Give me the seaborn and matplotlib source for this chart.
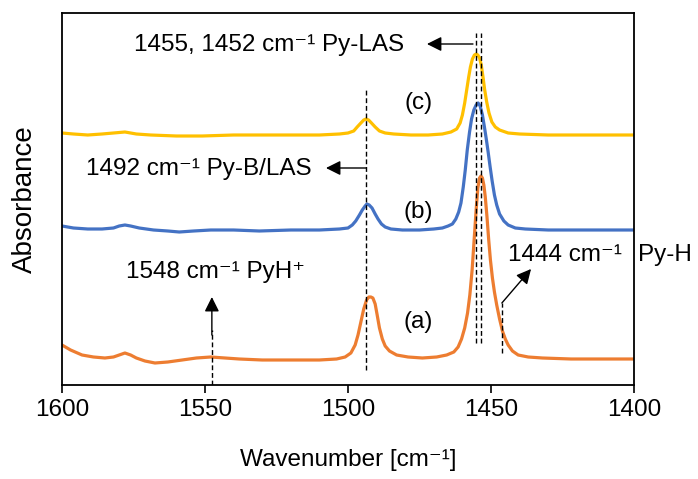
import numpy as np
import pandas as pd
import matplotlib
matplotlib.use("Agg")
import matplotlib.pyplot as plt
import seaborn as sns

# ---- data (wavenumber in cm-1, absorbance in a.u.) ----
wn_a = [1600, 1597, 1593, 1589, 1585, 1582, 1580, 1578, 1576, 1574, 1571, 1567.5, 1563,
        1558, 1553, 1548, 1543, 1538, 1530, 1520, 1510, 1504, 1501, 1499, 1497.5, 1496.5,
        1495.5, 1494.5, 1493.5, 1492.7, 1492, 1491.3, 1490.5, 1489.8, 1489, 1488, 1487,
        1485.5, 1483, 1479, 1474, 1469, 1465.5, 1463, 1461.5, 1460.3, 1459.2, 1458.2,
        1457.4, 1456.6, 1455.9, 1455.2, 1454.6, 1454.0, 1453.5, 1453.0, 1452.5, 1452.0,
        1451.4, 1450.8, 1450.2, 1449.5, 1448.8, 1448, 1447, 1446, 1445, 1444, 1442.5,
        1440.5, 1437, 1432, 1422, 1410, 1400]
abs_a = [0.40, 0.35, 0.30, 0.28, 0.27, 0.28, 0.30, 0.32, 0.30, 0.27, 0.24, 0.22, 0.23,
         0.25, 0.27, 0.28, 0.27, 0.26, 0.25, 0.25, 0.25, 0.26, 0.28, 0.32, 0.40, 0.50,
         0.63, 0.76, 0.85, 0.88, 0.88, 0.87, 0.81, 0.70, 0.57, 0.46, 0.39,
         0.34, 0.30, 0.28, 0.27, 0.28, 0.30, 0.33, 0.38, 0.46, 0.57, 0.72,
         0.90, 1.15, 1.45, 1.75, 1.97, 2.07, 2.09, 2.07, 2.00, 1.88,
         1.68, 1.45, 1.25, 1.07, 0.93, 0.80, 0.66, 0.54, 0.46, 0.40, 0.34,
         0.30, 0.28, 0.27, 0.26, 0.26, 0.26]

wn_b = [1600, 1596, 1591, 1586, 1582, 1580, 1578, 1576, 1573, 1568, 1563, 1559, 1554,
        1548, 1540, 1531, 1520, 1510, 1503, 1500, 1498.5, 1497.3, 1496, 1495, 1494,
        1493.4, 1492.6, 1491.6, 1490.5, 1489.5, 1488.3, 1487, 1485, 1481, 1475, 1470,
        1467, 1465, 1463.5, 1462.3, 1461.3, 1460.5, 1459.7, 1459, 1458.3, 1457.5, 1456.8,
        1456, 1455.2, 1454.5, 1453.8, 1453, 1452.3, 1451.6, 1451, 1450.3, 1449.6, 1448.8,
        1448, 1447, 1445.5, 1444, 1441.5, 1438, 1430, 1415, 1400]
abs_b = [1.59, 1.57, 1.56, 1.56, 1.57, 1.59, 1.60, 1.59, 1.57, 1.55, 1.54, 1.53, 1.54,
         1.55, 1.55, 1.54, 1.55, 1.55, 1.56, 1.57, 1.60, 1.64, 1.70, 1.75, 1.79,
         1.81, 1.80, 1.77, 1.71, 1.66, 1.61, 1.58, 1.56, 1.55, 1.55, 1.56,
         1.57, 1.59, 1.61, 1.66, 1.73, 1.82, 1.98, 2.15, 2.35, 2.53, 2.66,
         2.75, 2.80, 2.82, 2.79, 2.70, 2.58, 2.45, 2.33, 2.18, 2.04, 1.90,
         1.80, 1.71, 1.64, 1.60, 1.57, 1.56, 1.55, 1.55, 1.55]

wn_c = [1600, 1596, 1591, 1586, 1582, 1578, 1574, 1569, 1560, 1551, 1540, 1530, 1520,
        1510, 1503, 1500, 1498, 1496.8, 1495.5, 1494.5, 1493.7, 1492.8, 1491.8, 1490.5,
        1489, 1487, 1484, 1478, 1472, 1467, 1464, 1462, 1460.8, 1460, 1459.2, 1458.5,
        1457.8, 1457.2, 1456.5, 1455.8, 1455.2, 1454.6, 1454, 1453.4, 1452.8, 1452.2,
        1451.5, 1450.7, 1449.7, 1448.5, 1447, 1444, 1440, 1430, 1400]
abs_c = [2.52, 2.51, 2.50, 2.51, 2.52, 2.53, 2.51, 2.50, 2.49, 2.49, 2.50, 2.50, 2.50,
         2.50, 2.51, 2.52, 2.54, 2.58, 2.62, 2.65, 2.66, 2.65, 2.62, 2.58,
         2.54, 2.52, 2.51, 2.50, 2.50, 2.51, 2.53, 2.56, 2.62, 2.70, 2.82, 2.95,
         3.08, 3.18, 3.26, 3.30, 3.31, 3.30, 3.27, 3.20, 3.08, 2.95,
         2.83, 2.72, 2.63, 2.58, 2.55, 2.52, 2.51, 2.50, 2.50]

series_labels = ["(a)", "(b)", "(c)"]
series_colors = ["#ED7D31", "#4472C4", "#FFC000"]
xticks = [1600, 1550, 1500, 1450, 1400]

# ---- style ----
sns.set_theme(style="white")
plt.rcParams["font.family"] = ["Liberation Sans", "DejaVu Sans"]
plt.rcParams["text.color"] = "black"
plt.rcParams["axes.labelcolor"] = "black"
plt.rcParams["xtick.color"] = "black"

FS = 17.5
fig = plt.figure(figsize=(6.98, 4.79), dpi=100)
ax = fig.add_axes([62 / 698, 1 - 385 / 479, (634 - 62) / 698, (385 - 13) / 479])

frames = []
for wn, ab, lab in [(wn_a, abs_a, "(a)"), (wn_b, abs_b, "(b)"), (wn_c, abs_c, "(c)")]:
    frames.append(pd.DataFrame({"wn": wn, "abs": ab, "sample": lab}))
df = pd.concat(frames, ignore_index=True)

sns.lineplot(data=df, x="wn", y="abs", hue="sample", hue_order=series_labels,
             palette=series_colors, estimator=None, sort=True, lw=2.3,
             legend=False, ax=ax)

ax.set_xlim(1600, 1400)
ax.set_ylim(0, 3.72)
ax.set_xticks(xticks)
ax.set_xticklabels([str(t) for t in xticks], fontsize=FS)
ax.set_yticks([])
ax.tick_params(axis="x", direction="out", length=6, width=1.2, color="black",
               bottom=True, pad=4)
for s in ax.spines.values():
    s.set_color("black")
    s.set_linewidth(1.3)

ax.set_xlabel("Wavenumber [cm\u207b\u00b9]", fontsize=FS, labelpad=20)
ax.set_ylabel("Absorbance", fontsize=20, labelpad=17)

dash = (0, (3.5, 2.0))
kw = dict(color="black", lw=1.0, ls=dash)
# dashed guide lines
ax.plot([1493.7, 1493.7], [0.15, 2.97], **kw)
ax.plot([1455.4, 1455.4], [0.42, 3.52], **kw)
ax.plot([1453.5, 1453.5], [0.42, 3.52], **kw)
ax.plot([1547.6, 1547.6], [0.0, 0.55], **kw)
ax.plot([1446.2, 1446.2], [0.32, 0.82], **kw)

aprops = dict(arrowstyle="-|>", color="black", lw=1.0, mutation_scale=22,
              shrinkA=0, shrinkB=0)
ax.annotate("", xy=(1472.4, 3.41), xytext=(1456.3, 3.41), arrowprops=aprops)
ax.annotate("", xy=(1507.7, 2.17), xytext=(1493.7, 2.17), arrowprops=aprops)
ax.annotate("", xy=(1547.6, 0.88), xytext=(1547.6, 0.50), arrowprops=aprops)
ax.annotate("", xy=(1436.0, 1.16), xytext=(1446.2, 0.82), arrowprops=aprops)

ax.text(1480.4, 3.40, "1455, 1452 cm\u207b\u00b9 Py-LAS", fontsize=FS, ha="right", va="center")
ax.text(1512.6, 2.16, "1492 cm\u207b\u00b9 Py-B/LAS", fontsize=FS, ha="right", va="center")
ax.text(1546.5, 1.13, "1548 cm\u207b\u00b9 PyH\u207a", fontsize=FS, ha="center", va="center")
ax.text(1444.1, 1.30, "1444 cm\u207b\u00b9", fontsize=FS, ha="left", va="center")
ax.text(1398.6, 1.30, "Py-H", fontsize=FS, ha="left", va="center", clip_on=False)

for lab, yv in zip(series_labels, [0.63, 1.73, 2.82]):
    ax.text(1475.5, yv, lab, fontsize=FS, ha="center", va="center")

fig.savefig("out.png", dpi=100, facecolor="white")
